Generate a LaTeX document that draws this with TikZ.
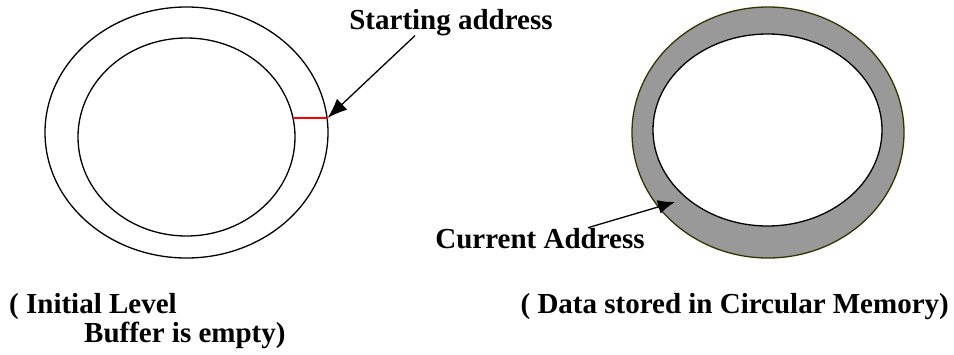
\documentclass[tikz,border=0pt]{standalone}
\usepackage{fontspec}
\setmainfont{Liberation Serif}
\usetikzlibrary{arrows.meta}
\definecolor{ringgray}{HTML}{999999}
\definecolor{ringedge}{HTML}{333300}

\begin{document}
\begin{tikzpicture}[x=1pt, y=-1pt,
    ring/.style={line width=1.3pt},
    lbl/.style={font=\bfseries\fontsize{29}{29}\selectfont, inner sep=0pt},
    pointer/.style={line width=1.3pt, -{Latex[length=20pt, width=15pt]}}]
    \useasboundingbox (0,0) rectangle (954,354);

    % Draw the empty buffer (left rings)
    \draw[ring] (186.5,132.5) ellipse [x radius=141.5, y radius=125.5];
    \draw[ring] (186.5,137) ellipse [x radius=108.5, y radius=99];
    \coordinate (start-in) at (293,118);
    \coordinate (start-out) at (327.5,118);
    \draw[red, line width=1.3pt] (start-in) -- (start-out); % starting mark

    % Draw the filled buffer (right rings)
    \draw[ring, draw=ringedge, fill=ringgray] (768,132.5) ellipse [x radius=136, y radius=125.5];
    \draw[ring, fill=white] (767.5,130) ellipse [x radius=114.5, y radius=96];
    \coordinate (cur-pt) at (675,202);

    % Labels
    \node[lbl, anchor=base] (start) at (451,29) {Starting address};
    \node[lbl, anchor=base] (current) at (540,248) {Current Address};
    \node[lbl, anchor=base west] (initial) at (9,313) {( Initial Level};
    \node[lbl, anchor=base west] (empty) at (84,342) {Buffer is empty)};
    \node[lbl, anchor=base east] (stored) at (949,313) {( Data stored in Circular Memory)};

    % Draw the pointer arrows
    \draw[pointer] ([xshift=-36pt]start.south) -- (start-out);
    \draw[pointer, -{Latex[length=17pt, width=14pt]}] ([xshift=48pt]current.north) -- (cur-pt);
\end{tikzpicture}
\end{document}
